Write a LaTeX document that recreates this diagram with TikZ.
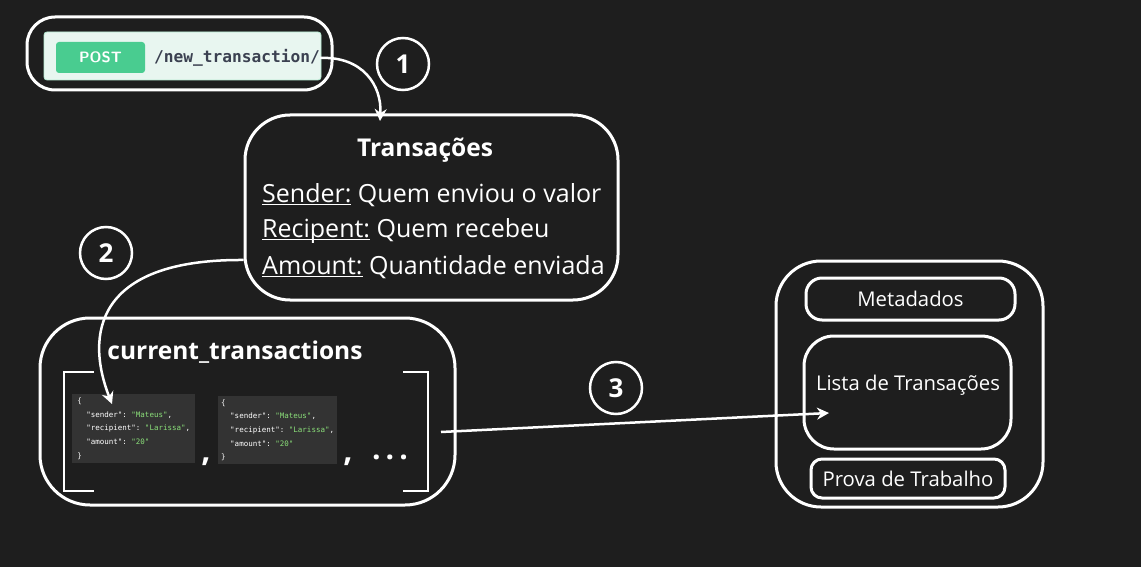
\documentclass[tikz,border=0pt]{standalone}
\usepackage{fontspec}
\setmainfont{Open Sans}
\setmonofont{DejaVu Sans Mono}
\usetikzlibrary{positioning,arrows.meta}
\definecolor{bg}{HTML}{1E1E1E}
\definecolor{postgreen}{HTML}{49CC90}
\definecolor{postpanel}{HTML}{E8F6F0}
\definecolor{urltext}{HTML}{3B4151}
\definecolor{jsonbg}{HTML}{333333}
\definecolor{jsongreen}{HTML}{8BE07A}
\newcommand{\jk}[1]{\textcolor{white}{"#1"}}
\newcommand{\jv}[1]{\textcolor{jsongreen}{"#1"}}
\newcommand{\jsonobj}{\{\\
\ \ \jk{sender}: \jv{Mateus},\\
\ \ \jk{recipient}: \jv{Larissa},\\
\ \ \jk{amount}: \jv{20}\\
\}}
\newcommand{\fieldname}[1]{\underline{\raisebox{0pt}[\height][0pt]{#1}}}

\begin{document}
\begin{tikzpicture}[x=1pt,y=-1pt,
    box/.style={draw=white, line width=3pt, rounded corners=#1, inner sep=0pt},
    num/.style={circle, draw=white, line width=2.5pt, minimum size=52pt, inner sep=0pt,
      text=white, font=\fontsize{26}{26}\selectfont\bfseries},
    link/.style={white, line width=2.5pt, -{Stealth[length=12pt,width=12pt]}},
    json/.style={fill=jsonbg, text=white, align=left, anchor=north west, inner sep=3pt,
      font=\ttfamily\fontsize{7.5}{13.6}\selectfont},
    txt/.style={text=white, font=\fontsize{25}{25}\selectfont},
    small/.style={text=white, font=\fontsize{20.3}{20.3}\selectfont}]
  \fill[bg] (0,0) rectangle (1141,567);
  \useasboundingbox (0,0) rectangle (1141,567);

  \node[box=28, minimum width=305pt, minimum height=73pt] (api) at (179.5,53.5) {};
  \node[fill=postpanel, draw=postgreen!40, line width=0.8pt, rounded corners=3pt,
    minimum width=277pt, minimum height=48pt] (panel) at (182.5,56) {};
  \node[fill=postgreen, rounded corners=3pt, minimum width=89pt, minimum height=31pt,
    text=white, font=\sffamily\bfseries\fontsize{15}{15}\selectfont] (post) at (100.5,57.5) {POST};
  \node[anchor=west, inner sep=0pt, text=urltext,
    font=\ttfamily\bfseries\fontsize{16.2}{16.2}\selectfont] (url) at (154,58) {/new\_transaction/};
  \node[num] (n1) at (403,64) {1};

  \node[box=45, minimum width=373pt, minimum height=185pt] (tx) at (431.5,207.5) {};
  \node[txt, font=\fontsize{24.5}{24.5}\selectfont\bfseries] (txtitle) at (425,150) {Transações};
  \node[txt, anchor=west, inner sep=0pt] (sender) at (262,195) {\fieldname{Sender:} Quem enviou o valor};
  \node[txt, anchor=west, inner sep=0pt] (recip) at (262,230) {\fieldname{Recipent:} Quem recebeu};
  \node[txt, anchor=west, inner sep=0pt] (amount) at (262,267) {\fieldname{Amount:} Quantidade enviada};
  \node[num] (n2) at (106,253) {2};

  \node[box=50, minimum width=415pt, minimum height=187pt] (cur) at (247.5,411.5) {};
  \node[txt, font=\fontsize{24.5}{24.5}\selectfont\bfseries] (curtitle) at (235,352) {current\_transactions};
  \draw[white, line width=2.5pt] (94,372) -- (64,372) -- (64,491) -- (94,491);
  \draw[white, line width=2.5pt] (403,372) -- (428,372) -- (428,491) -- (403,491);
  \node[json, minimum width=123pt, minimum height=69pt] (obj1) at (72,394) {\jsonobj};
  \node[json, minimum width=118pt, minimum height=68pt] (obj2) at (218,396) {\jsonobj};
  \node[text=white, font=\fontsize{32}{32}\selectfont\bfseries] (c1) at (206,462) {,};
  \node[text=white, font=\fontsize{32}{32}\selectfont\bfseries] (c2) at (348,462) {,};
  \node[text=white, font=\fontsize{30}{30}\selectfont\bfseries] (dots) at (390,457) {.\,.\,.};
  \node[num] (n3) at (616,388) {3};

  \node[box=45, minimum width=267pt, minimum height=246pt] (block) at (909.5,384) {};
  \node[box=16, minimum width=209pt, minimum height=42pt, small] (meta) at (910.5,299) {Metadados};
  \node[box=30, minimum width=207pt, minimum height=113pt] (lista) at (907.5,392.5) {};
  \node[small] (listatxt) at (908,385) {Lista de Transações};
  \node[box=11, minimum width=194pt, minimum height=39pt, small] (prova) at (908,478.5) {Prova de Trabalho};

  \coordinate (a1) at (380,121);
  \coordinate (a2) at (112,404);
  \coordinate (a3s) at (441,432);
  \coordinate (a3) at (829,413);
  \draw[link] (url.east) .. controls (362,56) and (382,85) .. (a1);
  \draw[link] (tx.west |- 0,260) .. controls (95,259) and (85,335) .. (a2);
  \draw[link] (a3s) -- (a3);
\end{tikzpicture}
\end{document}
